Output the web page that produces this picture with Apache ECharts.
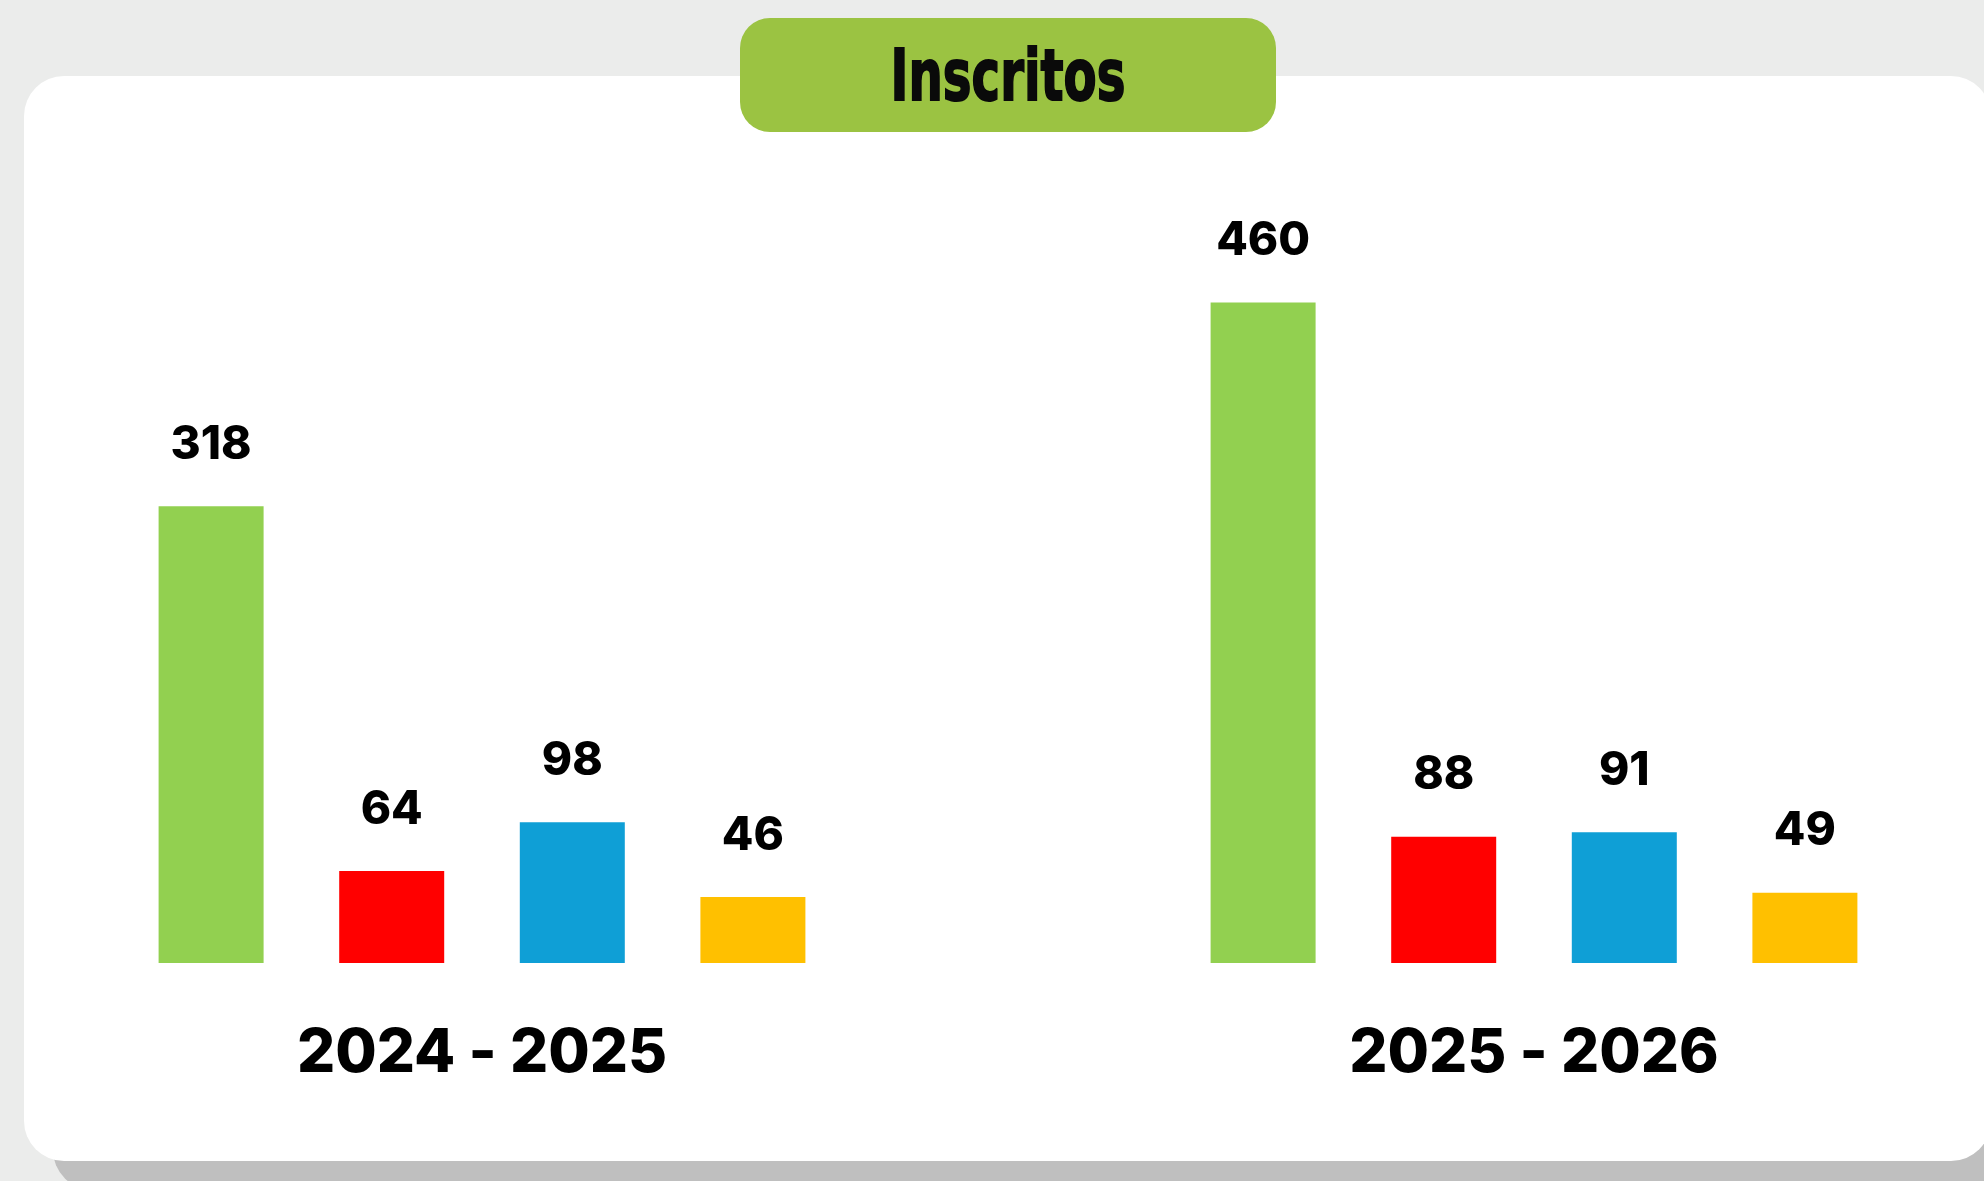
<!DOCTYPE html>
<html>
<head>
<meta charset="utf-8">
<title>Inscritos</title>
<script src="https://cdn.jsdelivr.net/npm/echarts@6/dist/echarts.min.js"></script>
<style>
  html, body { margin: 0; padding: 0; background: #ebeceb; }
  #chart { width: 1984px; height: 1181px; }
</style>
</head>
<body>
<div id="chart"></div>
<script>
// datos
const cursos = ['2024 - 2025', '2025 - 2026']
const serieVerde = [318, 460]
const serieRoja = [64, 88]
const serieAzul = [98, 91]
const serieAmarilla = [46, 49]
const colores = ['#92d050', '#ff0000', '#0f9fd6', '#ffc000']

const chart = echarts.init(document.getElementById('chart'))

// etiqueta encima de cada barra
const etiqueta = {
  show: true,
  position: 'top',
  distance: 61,
  verticalAlign: 'middle',
  fontFamily: 'Inter',
  fontWeight: 800,
  fontSize: 46,
  color: '#000'
}

const serie = (nombre, datos, color) => ({
  name: nombre,
  type: 'bar',
  data: datos,
  barWidth: 105,
  barGap: '72%',
  itemStyle: { color: color },
  label: etiqueta,
  silent: true
})

const option = {
  backgroundColor: '#ebeceb',
  animation: false,
  grid: { left: -44, right: -76, top: 245, bottom: 218, outerBoundsMode: 'none', containLabel: false },
  xAxis: {
    type: 'category',
    data: cursos,
    axisLine: { show: false },
    axisTick: { show: false },
    axisLabel: {
      margin: 91,
      verticalAlign: 'middle',
      fontFamily: 'Inter',
      fontWeight: 800,
      fontSize: 60,
      color: '#000'
    }
  },
  yAxis: {
    type: 'value',
    min: 0,
    max: 500,
    show: false,
    splitLine: { show: false }
  },
  graphic: [
    // sombra de la tarjeta
    {
      type: 'rect', z: -10,
      shape: { x: 53, y: 110, width: 1990, height: 1080, r: 40 },
      style: { fill: '#bfbfbf' }
    },
    // tarjeta blanca
    {
      type: 'rect', z: -9,
      shape: { x: 24, y: 76, width: 1967, height: 1085, r: 40 },
      style: { fill: '#ffffff' }
    },
    // cabecera
    {
      type: 'rect', z: -8,
      shape: { x: 740, y: 18, width: 536, height: 114, r: 30 },
      style: { fill: '#9bc342' }
    },
    {
      type: 'text', z: -7,
      x: 1008, y: 81,
      scaleX: 0.67,
      style: {
        text: 'Inscritos',
        fontFamily: 'DejaVu Sans',
        fontWeight: 'bold',
        fontSize: 72,
        fill: '#0a0a0a',
        stroke: '#0a0a0a',
        lineWidth: 2,
        textAlign: 'center',
        textVerticalAlign: 'middle'
      }
    }
  ],
  series: [
    serie('Verde', serieVerde, colores[0]),
    serie('Rojo', serieRoja, colores[1]),
    serie('Azul', serieAzul, colores[2]),
    serie('Amarillo', serieAmarilla, colores[3])
  ]
}

chart.setOption(option)
</script>
</body>
</html>
